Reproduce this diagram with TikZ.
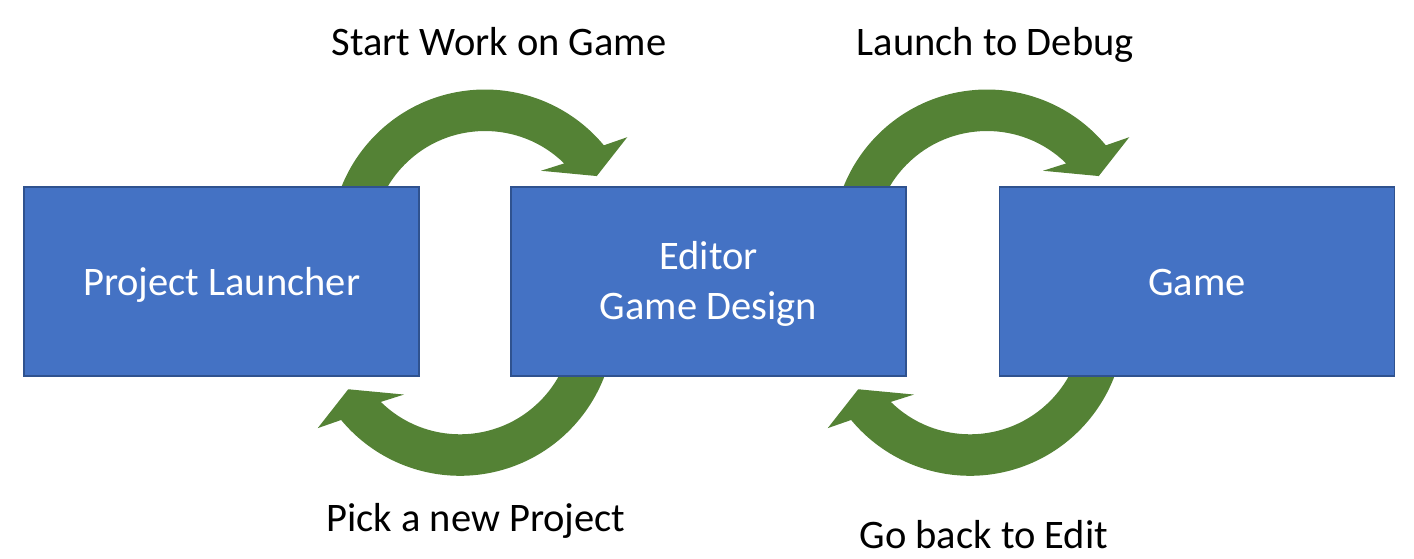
\documentclass[tikz,border=0pt]{standalone}
\usepackage{fontspec}
\setmainfont{Carlito}
\definecolor{boxblue}{HTML}{4472C4}
\definecolor{boxedge}{HTML}{2F528F}
\definecolor{arrowgreen}{HTML}{548235}
\tikzset{
  box/.style={draw=boxedge, fill=boxblue, line width=1.5pt, minimum width=395pt,
    minimum height=189pt, inner sep=0pt, text=white, align=center,
    text height=29pt, text depth=0pt,
    font=\fontsize{40.5}{50}\selectfont},
  lbl/.style={text=black, inner sep=0pt, font=\fontsize{40.5}{50}\selectfont, anchor=base},
  bentarrow/.pic={
    \fill[arrowgreen] (185:154.5) arc[start angle=185, end angle=39.7, radius=154.5]
      -- (36.9:177.9) -- (31.3:130.8) -- (52.6:92.2) -- (45.5:113)
      arc[start angle=45.5, end angle=185, radius=113] -- cycle;
  }
}
\begin{document}
\begin{tikzpicture}[x=1pt,y=1pt]
\useasboundingbox (0,0) rectangle (1414,-558);
% curved arrows (drawn first, boxes cover their tails)
\pic (a1) at (485,-244) {bentarrow};
\pic (a2) at (987,-244) {bentarrow};
\pic[rotate=180] (a3) at (460,-321.3) {bentarrow};
\pic[rotate=180] (a4) at (970,-321.3) {bentarrow};
% boxes
\node[box] (pl) at (221.7,-281.4) {Project Launcher};
\node[box, text height=76pt] (ed) at (708.5,-281.4) {Editor\\Game Design};
\node[box] (gm) at (1196.8,-281.4) {Game};
% labels
\node[lbl] (l1) at (499,-55) {Start Work on Game};
\node[lbl] (l2) at (995.3,-55) {Launch to Debug};
\node[lbl] (l3) at (475.8,-531.3) {Pick a new Project};
\node[lbl] (l4) at (983.8,-548) {Go back to Edit};
\end{tikzpicture}
\end{document}
